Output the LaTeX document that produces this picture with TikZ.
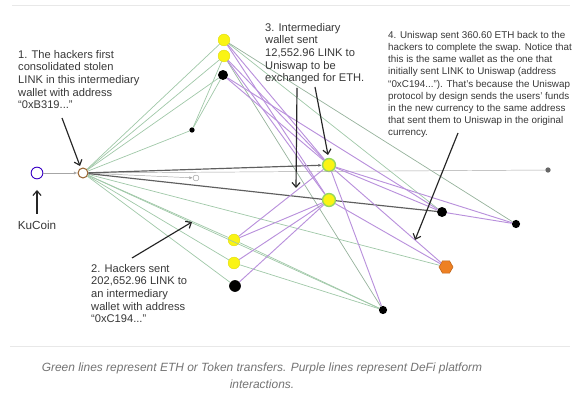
\documentclass[tikz,border=0pt]{standalone}
\usepackage{fontspec}
\setmainfont{Liberation Sans}
\definecolor{ethgreen}{RGB}{160,200,168}
\definecolor{defipurple}{RGB}{185,145,220}
\definecolor{flowgray}{RGB}{95,95,95}
\definecolor{notegray}{RGB}{55,55,55}
\definecolor{capgray}{RGB}{115,115,115}
\definecolor{rulegray}{RGB}{232,232,232}
\definecolor{walletyellow}{RGB}{250,244,20}
\definecolor{swapgreen}{RGB}{150,215,95}
\definecolor{hexorange}{RGB}{238,128,35}
\usetikzlibrary{shapes.geometric, arrows.meta, positioning}

\tikzset{
  wallet/.style={circle, inner sep=0pt, minimum size=#1},
  yellowwallet/.style={wallet=#1, fill=walletyellow, draw=walletyellow!80!olive, line width=0.4pt},
  swapwallet/.style={wallet=11pt, fill=walletyellow, draw=swapgreen, line width=1.2pt},
  blackwallet/.style={wallet=#1, fill=black},
  ethline/.style={draw=ethgreen, line width=0.6pt},
  defiline/.style={draw=defipurple, line width=0.8pt},
  darkline/.style={draw=flowgray, line width=1pt},
  thinline/.style={draw=black!35, line width=0.4pt},
  smalltip/.style={-{Latex[length=3pt,width=2.5pt]}},
  notearrow/.style={draw=black!85, line width=1pt, -{Straight Barb[length=4pt,width=7pt]}},
  note/.style={anchor=north west, align=left, inner sep=0pt, text=notegray, font=\fontsize{9.5}{10.8}\selectfont},
  longnote/.style={note, font=\fontsize{8.4}{10.4}\selectfont}
}

\begin{document}
\begin{tikzpicture}[x=0.03cm, y=-0.03cm]
  \useasboundingbox (0,0) rectangle (580,405);
  \draw[rulegray, line width=0.6pt] (12,5) -- (570,5);
  \draw[rulegray, line width=0.8pt] (10,346) -- (570,346);

  % wallets
  \node[wallet=10pt, draw=blue!55!violet, line width=0.8pt, fill=white] (kucoin) at (37,173) {};
  \node[wallet=8.5pt, draw=brown!80!black, line width=0.9pt, fill=white] (hacker) at (83,173) {};
  \node[yellowwallet=10pt] (topA) at (224,40) {};
  \node[yellowwallet=10pt] (topB) at (224,56) {};
  \node[blackwallet=8.5pt] (topK) at (223,75) {};
  \node[blackwallet=4.5pt] (midK) at (192,130) {};
  \node[wallet=5pt, draw=black!40, fill=white, line width=0.4pt] (midW) at (196,178) {};
  \node[swapwallet] (swapA) at (329,165) {};
  \node[swapwallet] (swapB) at (329,200) {};
  \node[yellowwallet=10pt] (leftA) at (234,240) {};
  \node[yellowwallet=10pt] (leftB) at (234,263) {};
  \node[blackwallet=10pt] (leftK) at (235,286) {};
  \node[blackwallet=7pt] (lowK) at (383,310) {};
  \node[blackwallet=4.5pt, fill=black!60] (farG) at (548,170) {};
  \node[blackwallet=8.5pt] (rightK) at (442,212) {};
  \node[blackwallet=7pt] (edgeK) at (516,224) {};
  \node[regular polygon, regular polygon sides=6, minimum size=12pt, inner sep=0pt,
        fill=hexorange, draw=hexorange!80!black, line width=0.5pt] (hexW) at (446,267) {};

  % ETH / token transfers
  \foreach \t in {topA, topB, topK, midK, leftA, leftB, leftK, lowK, hexW}
    \draw[ethline] (hacker) -- (\t);
  \draw[ethline] (midK) -- (topB);
  \draw[ethline] (midK) -- (topK);
  \draw[ethline] (leftA) -- (lowK);
  \draw[ethline] (leftB) -- (lowK);
  \draw[ethline] (topA) -- (rightK);
  \draw[ethline, draw=ethgreen!70!gray] (topB) -- (lowK);
  \draw[ethline, draw=ethgreen!70!gray] (topA) -- (edgeK);

  % gray flows
  \draw[thinline, smalltip] (kucoin) -- (hacker);
  \draw[thinline, smalltip] (hacker) -- (midW);
  \draw[thinline] (hacker) -- (farG);
  \draw[darkline, smalltip] (hacker) -- (swapA);
  \draw[darkline] (hacker) -- (swapB);
  \draw[darkline] (swapB) -- (rightK);

  % DeFi interactions
  \foreach \s/\t in {topA/swapA, topB/swapA, topK/swapA, topA/swapB, topB/swapB, topK/rightK,
                     swapA/leftA, swapB/leftA, swapB/leftB, swapB/leftK, swapA/lowK,
                     swapA/rightK, swapA/edgeK, swapA/hexW, swapB/hexW, rightK/edgeK}
    \draw[defiline] (\s) -- (\t);

  % notes
  \node[note] (note1) at (18,50) {1. The hackers first\\consolidated stolen\\LINK in this intermediary\\wallet with address\\``0xB319...''};
  \node[note] (note2) at (91,264) {2. Hackers sent\\202,652.96 LINK to\\an intermediary\\wallet with address\\``0xC194...''};
  \node[note] (note3) at (265,23) {3. Intermediary\\wallet sent\\12,552.96 LINK to\\Uniswap to be\\exchanged for ETH.};
  \node[longnote] (note4) at (388,31) {4. Uniswap sent 360.60 ETH back to the\\hackers to complete the swap. Notice that\\this is the same wallet as the one that\\initially sent LINK to Uniswap (address\\``0xC194...''). That's because the Uniswap\\protocol by design sends the users' funds\\in the new currency to the same address\\that sent them to Uniswap in the original\\currency.};
  \node[note, anchor=north, font=\fontsize{10}{12}\selectfont] (kulabel) at (37,221) {KuCoin};

  \coordinate (n1tail) at (62,118);  \coordinate (n1head) at (80,166);
  \coordinate (kutail) at (37,214);  \coordinate (kuhead) at (37,190);
  \coordinate (n2tail) at (132,258); \coordinate (n2head) at (192,222);
  \coordinate (n3tailA) at (297,88); \coordinate (n3headA) at (296,188);
  \coordinate (n3tailB) at (315,87); \coordinate (n3headB) at (328,155);
  \coordinate (n4tail) at (458,133); \coordinate (n4head) at (415,240);
  \draw[notearrow] (n1tail) -- (n1head);
  \draw[notearrow] (kutail) -- (kuhead);
  \draw[notearrow] (n2tail) -- (n2head);
  \draw[notearrow] (n3tailA) -- (n3headA);
  \draw[notearrow] (n3tailB) -- (n3headB);
  \draw[notearrow] (n4tail) -- (n4head);

  % caption
  \node[align=center, text=capgray, font=\fontsize{10.2}{14.5}\selectfont\itshape] (caption) at (262,376)
    {Green lines represent ETH or Token transfers. Purple lines represent DeFi platform\\interactions.};
\end{tikzpicture}
\end{document}
